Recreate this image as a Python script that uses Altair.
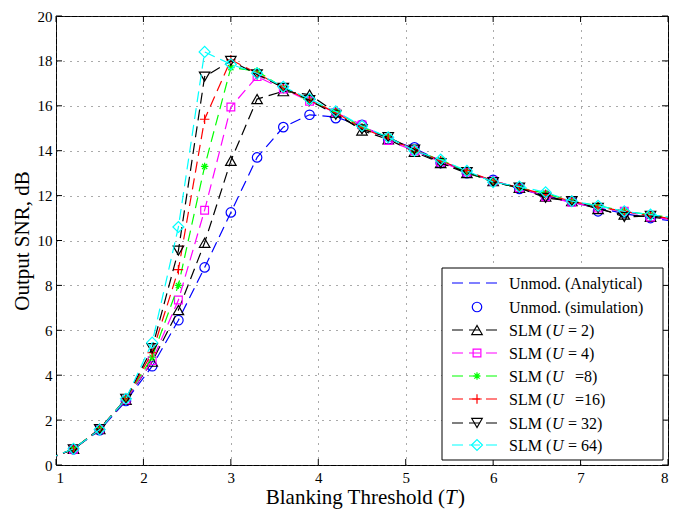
import altair as alt
import pandas as pd

# ---------------- data ----------------
x_vals = [0.9, 1.2, 1.5, 1.8, 2.1, 2.4, 2.7, 3.0, 3.3, 3.6, 3.9, 4.2, 4.5,
          4.8, 5.1, 5.4, 5.7, 6.0, 6.3, 6.6, 6.9, 7.2, 7.5, 7.8, 8.1]

analytical = [0.25, 0.72, 1.55, 2.85, 4.4, 6.45, 8.8, 11.25, 13.7, 15.05, 15.6, 15.5, 15.1,
              14.55, 14.1, 13.55, 13.05, 12.65, 12.3, 12.0, 11.7, 11.45, 11.2, 11.0, 10.85]
simulation = [None, 0.7, 1.55, 2.85, 4.4, 6.45, 8.8, 11.25, 13.7, 15.05, 15.6, 15.45, 15.15,
              14.5, 14.15, 13.45, 13.0, 12.7, 12.3, 12.0, 11.75, 11.3, 11.25, 11.0, None]
slm_u2 = [0.25, 0.72, 1.6, 2.9, 4.6, 6.9, 9.9, 13.55, 16.3, 16.65, 16.5, 15.7, 14.9,
          14.5, 13.95, 13.45, 13.0, 12.65, 12.35, 11.95, 11.75, 11.4, 11.15, 11.05, 10.9]
slm_u4 = [0.25, 0.7, 1.6, 2.9, 4.65, 7.35, 11.35, 15.95, 17.3, 16.75, 16.2, 15.7, 15.15,
          14.45, 14.0, 13.5, 13.05, 12.65, 12.35, 11.95, 11.7, 11.45, 11.3, 11.05, 10.9]
slm_u8 = [0.25, 0.72, 1.6, 2.95, 4.8, 8.0, 13.3, 17.7, 17.55, 16.8, 16.2, 15.75, 15.05,
          14.6, 14.0, 13.6, 13.05, 12.6, 12.35, 12.1, 11.75, 11.55, 11.3, 11.15, 11.0]
slm_u16 = [0.25, 0.7, 1.6, 2.95, 5.0, 8.7, 15.4, 18.05, 17.45, 16.8, 16.25, 15.7, 15.0,
           14.55, 14.05, 13.55, 13.1, 12.65, 12.35, 12.05, 11.75, 11.5, 11.3, 11.1, 10.95]
slm_u32 = [0.25, 0.7, 1.6, 2.95, 5.2, 9.55, 17.3, 18.0, 17.4, 16.8, 16.25, 15.6, 14.95,
           14.6, 14.05, 13.45, 13.05, 12.6, 12.35, 11.9, 11.75, 11.45, 11.05, 11.1, 10.95]
slm_u64 = [0.25, 0.72, 1.58, 2.95, 5.45, 10.6, 18.4, 17.85, 17.45, 16.85, 16.3, 15.75, 15.1,
           14.6, 14.0, 13.6, 13.1, 12.6, 12.4, 12.15, 11.75, 11.55, 11.3, 11.15, 11.0]

x_ticks = [1, 2, 3, 4, 5, 6, 7, 8]
y_ticks = [0, 2, 4, 6, 8, 10, 12, 14, 16, 18, 20]

legend_prefix = ["Unmod. (Analytical)", "Unmod. (simulation)", "SLM (", "SLM (", "SLM (",
                 "SLM (", "SLM (", "SLM ("]
legend_italic = ["", "", "U", "U", "U", "U", "U", "U"]
legend_suffix = ["", "", "=\u00a02)", "=\u00a04)", "=8)", "=16)", "=\u00a032)", "=\u00a064)"]
legend_suffix_wide = [False, False, False, False, True, True, False, False]

# ---------------- styles ----------------
W, H = 612, 449
FONT = "Liberation Serif"
DASH = [11, 6]
ASTERISK = "M-1,0L1,0M0,-1L0,1M-0.7,-0.7L0.7,0.7M-0.7,0.7L0.7,-0.7"
PLUS = "M-1,0L1,0M0,-1L0,1"

series = [
    # values, color, line?, shape, size
    (analytical, "#0000ff", True, None, 0),
    (simulation, "#0000ff", False, "circle", 90),
    (slm_u2, "#000000", True, "triangle-up", 110),
    (slm_u4, "#ff00ff", True, "square", 60),
    (slm_u8, "#00ff00", True, ASTERISK, 55),
    (slm_u16, "#ff0000", True, PLUS, 90),
    (slm_u32, "#000000", True, "triangle-down", 110),
    (slm_u64, "#00ffff", True, "diamond", 120),
]

X = alt.X("x:Q", scale=alt.Scale(domain=[1, 8], nice=False, zero=False),
          axis=alt.Axis(values=x_ticks, format="d", title=None, ticks=False, domain=False,
                        grid=True, labelPadding=5))
Y = alt.Y("y:Q", scale=alt.Scale(domain=[0, 20], nice=False, zero=True),
          axis=alt.Axis(values=y_ticks, format="d", title="Output SNR, dB", ticks=False,
                        domain=False, grid=True, labelPadding=4, titlePadding=5))

layers = []

# tick marks (inward, on all four sides)
xt = pd.DataFrame({"x": x_ticks})
yt = pd.DataFrame({"y": y_ticks})
layers.append(alt.Chart(xt).mark_rule(color="black", strokeWidth=1).encode(
    x=X, y=alt.value(H), y2=alt.value(H - 6)))
layers.append(alt.Chart(xt).mark_rule(color="black", strokeWidth=1).encode(
    x=X, y=alt.value(0), y2=alt.value(6)))
layers.append(alt.Chart(yt).mark_rule(color="black", strokeWidth=1).encode(
    y=Y, x=alt.value(0), x2=alt.value(6)))
layers.append(alt.Chart(yt).mark_rule(color="black", strokeWidth=1).encode(
    y=Y, x=alt.value(W), x2=alt.value(W - 6)))

# data series
for vals, color, has_line, shape, size in series:
    df = pd.DataFrame({"x": x_vals, "y": vals}).dropna()
    if has_line:
        layers.append(alt.Chart(df).mark_line(
            clip=True, color=color, strokeDash=DASH, strokeWidth=1.2).encode(x=X, y=Y))
    if shape is not None:
        dfp = df[(df["x"] >= 1.0) & (df["x"] <= 8.0)]
        layers.append(alt.Chart(dfp).mark_point(
            shape=shape, size=size, color=color, filled=False, strokeWidth=1.2,
            opacity=1, clip=True).encode(x=X, y=Y))

# legend (box anchored to the right/bottom of the plot)
one = pd.DataFrame({"k": [0]})
LX1 = W - 5
LX0 = LX1 - 221
LY1 = H - 5
LY0 = LY1 - 192
layers.append(alt.Chart(one).mark_rect(fill="white", stroke="black", strokeWidth=1).encode(
    x=alt.value(LX0), x2=alt.value(LX1), y=alt.value(LY0), y2=alt.value(LY1)))
row_off = [15, 39, 62, 85, 108, 131, 155, 177]
sx0 = LX0 + 10      # sample line start
tx = LX0 + 67       # text start
for i, (vals, color, has_line, shape, size) in enumerate(series):
    yy = LY0 + row_off[i]
    if has_line:
        layers.append(alt.Chart(one).mark_rule(color=color, strokeDash=DASH, strokeWidth=1.2).encode(
            x=alt.value(sx0), x2=alt.value(sx0 + 50), y=alt.value(yy)))
    if shape is not None:
        layers.append(alt.Chart(one).mark_point(
            shape=shape, size=size, color=color, filled=False, strokeWidth=1.2, opacity=1).encode(
            x=alt.value(sx0 + 25), y=alt.value(yy)))
    layers.append(alt.Chart(one).mark_text(
        text=legend_prefix[i], font=FONT, fontSize=16, align="left", baseline="middle",
        color="black").encode(x=alt.value(tx), y=alt.value(yy + 1)))
    if legend_italic[i]:
        layers.append(alt.Chart(one).mark_text(
            text=legend_italic[i], font=FONT, fontSize=16, fontStyle="italic", align="left",
            baseline="middle", color="black").encode(x=alt.value(tx + 43), y=alt.value(yy + 1)))
        sx = tx + (66 if legend_suffix_wide[i] else 59)
        layers.append(alt.Chart(one).mark_text(
            text=legend_suffix[i], font=FONT, fontSize=16, align="left", baseline="middle",
            color="black").encode(x=alt.value(sx), y=alt.value(yy + 1)))

# x-axis title with italic T
TB = H + 39
TX = 389
layers.append(alt.Chart(one).mark_text(
    text="Blanking Threshold (", font=FONT, fontSize=21, align="right", baseline="alphabetic",
    color="black").encode(x=alt.value(TX), y=alt.value(TB)))
layers.append(alt.Chart(one).mark_text(
    text="T", font=FONT, fontSize=21, fontStyle="italic", align="left", baseline="alphabetic",
    color="black").encode(x=alt.value(TX), y=alt.value(TB)))
layers.append(alt.Chart(one).mark_text(
    text=")", font=FONT, fontSize=21, align="left", baseline="alphabetic",
    color="black").encode(x=alt.value(TX + 13), y=alt.value(TB)))

chart = alt.layer(*layers).properties(
    width=W, height=H,
    autosize=alt.AutoSizeParams(type="none"),
    padding={"left": 48, "top": 8, "right": 3, "bottom": 44},
).configure_view(
    stroke="black", strokeWidth=1
).configure_axis(
    labelFont=FONT, labelFontSize=15, labelColor="black",
    titleFont=FONT, titleFontSize=21, titleFontWeight="normal", titleColor="black",
    gridColor="#444444", gridDash=[1, 6], gridWidth=1, gridOpacity=0.9,
)

chart.save("out.html", embed_options={"renderer": "svg", "actions": False})
